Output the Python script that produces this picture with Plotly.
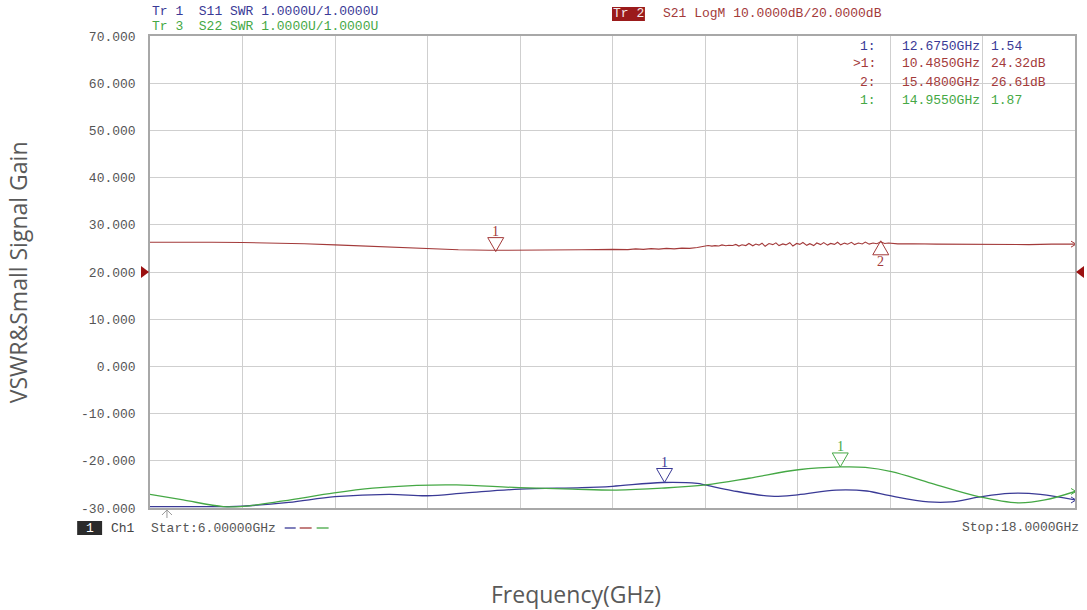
import plotly.graph_objects as go

# ---------------- data ----------------
# S21 (LogM, dB)
s21_freq = [6.0, 6.4, 6.8, 7.2, 7.6, 8.0, 8.4, 8.8, 9.2, 9.6, 10.0, 10.4, 10.8, 11.2, 11.6, 12.0,
            12.2, 12.3, 12.4, 12.5, 12.6, 12.7, 12.8, 12.9, 13.0, 13.1,
            13.20, 13.24, 13.29, 13.33, 13.38, 13.42, 13.47, 13.51, 13.56, 13.60, 13.64, 13.68,
            13.73, 13.77, 13.82, 13.86, 13.90, 13.94, 13.98, 14.03, 14.08, 14.12, 14.16, 14.21,
            14.25, 14.30, 14.34, 14.39, 14.43, 14.47, 14.52, 14.56, 14.61, 14.65, 14.70, 14.74,
            14.79, 14.83, 14.88, 14.92, 14.96, 15.01, 15.05, 15.10, 15.14, 15.19, 15.24, 15.28,
            15.33, 15.38, 15.43, 15.48, 15.53, 15.58,
            15.7, 15.9, 16.2, 16.5, 16.8, 17.1, 17.4, 17.7, 18.0]
s21_db = [26.3, 26.35, 26.3, 26.25, 26.2, 26.0, 25.75, 25.5, 25.2, 24.85, 24.7, 24.6, 24.6, 24.65, 24.7, 24.8,
          24.75, 24.9, 24.8, 24.95, 24.85, 25.0, 24.9, 25.05, 25.0, 25.2,
          25.45, 25.62, 25.48, 25.58, 25.52, 25.75, 25.55, 25.68, 25.62, 25.85, 25.50, 25.78,
          25.60, 26.05, 25.55, 25.92, 25.70, 26.10, 25.45, 26.02, 25.80, 26.18, 25.60, 25.95,
          25.75, 26.20, 25.50, 26.05, 25.85, 26.25, 25.65, 26.00, 25.60, 26.15, 25.80, 26.22,
          25.70, 26.05, 25.85, 26.30, 25.75, 26.12, 25.90, 26.28, 25.80, 26.15, 25.95, 26.35,
          25.90, 26.15, 26.00, 26.40, 26.05, 26.15,
          25.95, 26.0, 25.9, 25.85, 25.8, 25.85, 25.8, 25.9, 25.9]

# S11 (SWR)
s11_freq = [6.0, 6.4, 7.0, 7.2, 7.8, 8.4, 9.1, 9.6, 10.1, 10.8, 11.6, 12.0, 12.65, 13.1, 13.2,
            13.55, 14.05, 14.4, 14.9, 15.3, 15.6, 16.1, 16.4, 16.75, 17.15, 17.55, 18.0]
s11_swr = [1.03, 1.03, 1.03, 1.04, 1.12, 1.24, 1.29, 1.26, 1.32, 1.40, 1.43, 1.46, 1.54, 1.52, 1.49,
           1.37, 1.25, 1.28, 1.38, 1.36, 1.26, 1.13, 1.13, 1.23, 1.31, 1.29, 1.17]

# S22 (SWR)
s22_freq = [6.0, 6.43, 6.95, 7.17, 7.73, 8.39, 8.89, 9.46, 9.98, 10.79, 11.48, 12.05, 12.64, 13.21,
            13.77, 14.41, 14.96, 15.28, 15.62, 16.14, 16.75, 17.26, 17.61, 18.0]
s22_swr = [1.29, 1.17, 1.03, 1.03, 1.15, 1.32, 1.42, 1.48, 1.49, 1.43, 1.40, 1.38, 1.42, 1.49,
           1.63, 1.81, 1.87, 1.86, 1.77, 1.52, 1.24, 1.11, 1.17, 1.35]

# markers: (freq, value)
s21_marker1 = (10.485, 24.32)
s21_marker2 = (15.48, 26.61)
s11_marker1 = (12.675, 1.54)
s22_marker1 = (14.955, 1.87)

y_tickvals = [70, 60, 50, 40, 30, 20, 10, 0, -10, -20, -30]
y_ticktext = ["70.000", "60.000", "50.000", "40.000", "30.000", "20.000",
              "10.000", "0.000", "-10.000", "-20.000", "-30.000"]
x_start, x_stop, x_step = 6.0, 18.0, 1.2
ref_level = 20

marker_rows = [
    ("1:", "12.6750GHz", "1.54"),
    (">1:", "10.4850GHz", "24.32dB"),
    ("2:", "15.4800GHz", "26.61dB"),
    ("1:", "14.9550GHz", "1.87"),
]

# ---------------- style ----------------
RED = "#a33a3a"
BLUE = "#3a3a96"
GREEN = "#45a845"
MONO = "Liberation Mono"
L, R, T, B = 150, 10, 36, 102
W, H = 1087, 610
PW, PH = W - L - R, H - T - B


def px(x):
    return (x - L) / PW


def py(y):
    return (H - B - y) / PH


fig = go.Figure()
fig.add_trace(go.Scatter(x=s11_freq, y=s11_swr, mode="lines", line=dict(color=BLUE, width=1.3),
                         yaxis="y2", showlegend=False, line_shape="spline"))
fig.add_trace(go.Scatter(x=s22_freq, y=s22_swr, mode="lines", line=dict(color=GREEN, width=1.3),
                         yaxis="y2", showlegend=False, line_shape="spline"))
fig.add_trace(go.Scatter(x=s21_freq, y=s21_db, mode="lines", line=dict(color=RED, width=1.1),
                         showlegend=False))

shapes = []
annotations = []


def txt(x, y, text, color, xanchor="left", size=13, family=MONO, **kw):
    annotations.append(dict(x=px(x), y=py(y), xref="paper", yref="paper", xanchor=xanchor,
                            yanchor="middle", text=text, showarrow=False,
                            font=dict(family=family, size=size, color=color), **kw))


def tri_marker(f, v, yref, color, label, down=True):
    if down:
        path = "M -8,14 L 8,14 L 0,0 Z"
        shift = 20
    else:
        path = "M -8,-14 L 8,-14 L 0,0 Z"
        shift = -21
    shapes.append(dict(type="path", xref="x", yref=yref, xsizemode="pixel", ysizemode="pixel",
                       xanchor=f, yanchor=v, path=path, line=dict(color=color, width=1),
                       fillcolor="rgba(255,255,255,0)"))
    annotations.append(dict(x=f, y=v, xref="x", yref=yref, text=label, showarrow=False,
                            xanchor="center", yanchor="middle", yshift=shift,
                            font=dict(family="Liberation Serif", size=14, color=color)))


tri_marker(*s21_marker1, "y", RED, "1", True)
tri_marker(*s21_marker2, "y", RED, "2", False)
tri_marker(*s11_marker1, "y2", BLUE, "1", True)
tri_marker(*s22_marker1, "y2", GREEN, "1", True)

# end-of-trace arrowheads
for fx, fy, yref, col in [(s21_freq[-1], s21_db[-1], "y", RED),
                          (s11_freq[-1], s11_swr[-1], "y2", BLUE),
                          (s22_freq[-1], s22_swr[-1], "y2", GREEN)]:
    shapes.append(dict(type="path", xref="x", yref=yref, xsizemode="pixel", ysizemode="pixel",
                       xanchor=fx, yanchor=fy, path="M -4,3 L 1,0 L -4,-3",
                       line=dict(color=col, width=1)))

# reference level triangles
shapes.append(dict(type="path", xref="paper", yref="y", xsizemode="pixel", ysizemode="pixel",
                   xanchor=0, yanchor=ref_level, path="M -9,6 L -9,-6 L -1,0 Z",
                   line=dict(width=0), fillcolor="#9b1010"))
shapes.append(dict(type="path", xref="paper", yref="y", xsizemode="pixel", ysizemode="pixel",
                   xanchor=1, yanchor=ref_level, path="M 9,6 L 9,-6 L 1,0 Z",
                   line=dict(width=0), fillcolor="#9b1010"))
# stimulus arrow
shapes.append(dict(type="path", xref="x", yref="paper", xsizemode="pixel", ysizemode="pixel",
                   xanchor=6.22, yanchor=0, path="M 0,-2 L 0,-10 M -5,-7 L 0,-2 L 5,-7",
                   line=dict(color="#999999", width=1)))

# headers
txt(150, 12, "Tr 1  S11 SWR 1.0000U/1.0000U", BLUE)
txt(150, 27, "Tr 3  S22 SWR 1.0000U/1.0000U", GREEN)
shapes.append(dict(type="rect", xref="paper", yref="paper", x0=px(613), x1=px(646),
                   y0=py(7), y1=py(21), line=dict(width=0), fillcolor="#9b1b1b"))
txt(629.5, 14, "Tr 2", "#f4e8e8", xanchor="center")
txt(662, 14, "S21 LogM 10.0000dB/20.0000dB", RED)

# marker table
row_colors = [BLUE, RED, RED, GREEN]
row_y = [46, 64, 83, 101]
for (lab, fr, val), col, yy in zip(marker_rows, row_colors, row_y):
    txt(880, yy, lab, col, xanchor="right")
    txt(902, yy, fr, col)
    txt(991, yy, val, col)

# bottom bar
shapes.append(dict(type="rect", xref="paper", yref="paper", x0=px(77), x1=px(102),
                   y0=py(521), y1=py(535), line=dict(width=0), fillcolor="#2b2b2b"))
txt(89.5, 528, "1", "white", xanchor="center")
txt(109, 528, "Ch1", "#444444")
txt(149, 528, f"Start:{x_start:.5f}GHz", "#555555")
txt(1083, 527, f"Stop:{x_stop:.4f}GHz", "#555555", xanchor="right")
for (a, b), col in zip([(285, 296), (300, 312), (317, 329)], [BLUE, RED, GREEN]):
    shapes.append(dict(type="line", xref="paper", yref="paper", x0=px(a), x1=px(b),
                       y0=py(528), y1=py(528), line=dict(color=col, width=1.3)))

# axis titles
txt(18, 272, "VSWR&Small Signal Gain", "#595959", xanchor="center", size=23,
    family="Open Sans", textangle=-90)
txt(577, 594, "Frequency(GHz)", "#595959", xanchor="center", size=23, family="Open Sans")

fig.update_layout(
    width=W, height=H,
    margin=dict(l=L, r=R, t=T, b=B, pad=0),
    paper_bgcolor="white", plot_bgcolor="white",
    xaxis=dict(range=[x_start, x_stop], dtick=x_step, tick0=x_start, showticklabels=False,
               showgrid=True, gridcolor="#cfcfcf", gridwidth=1, zeroline=False,
               showline=True, linecolor="#a8a8a8", linewidth=1.5, mirror=True, ticks=""),
    yaxis=dict(range=[-30, 70], tickvals=y_tickvals, ticktext=y_ticktext,
               showgrid=True, gridcolor="#cfcfcf", gridwidth=1, zeroline=False,
               showline=True, linecolor="#a8a8a8", linewidth=1.5, mirror=True, ticks="",
               ticklabelstandoff=10,
               tickfont=dict(family=MONO, size=13, color="#555555")),
    yaxis2=dict(range=[1, 11], overlaying="y", visible=False),
    shapes=shapes,
    annotations=annotations,
)

fig.write_html("out.html", config={"displayModeBar": False},
               post_script="document.body.style.margin='0';")
